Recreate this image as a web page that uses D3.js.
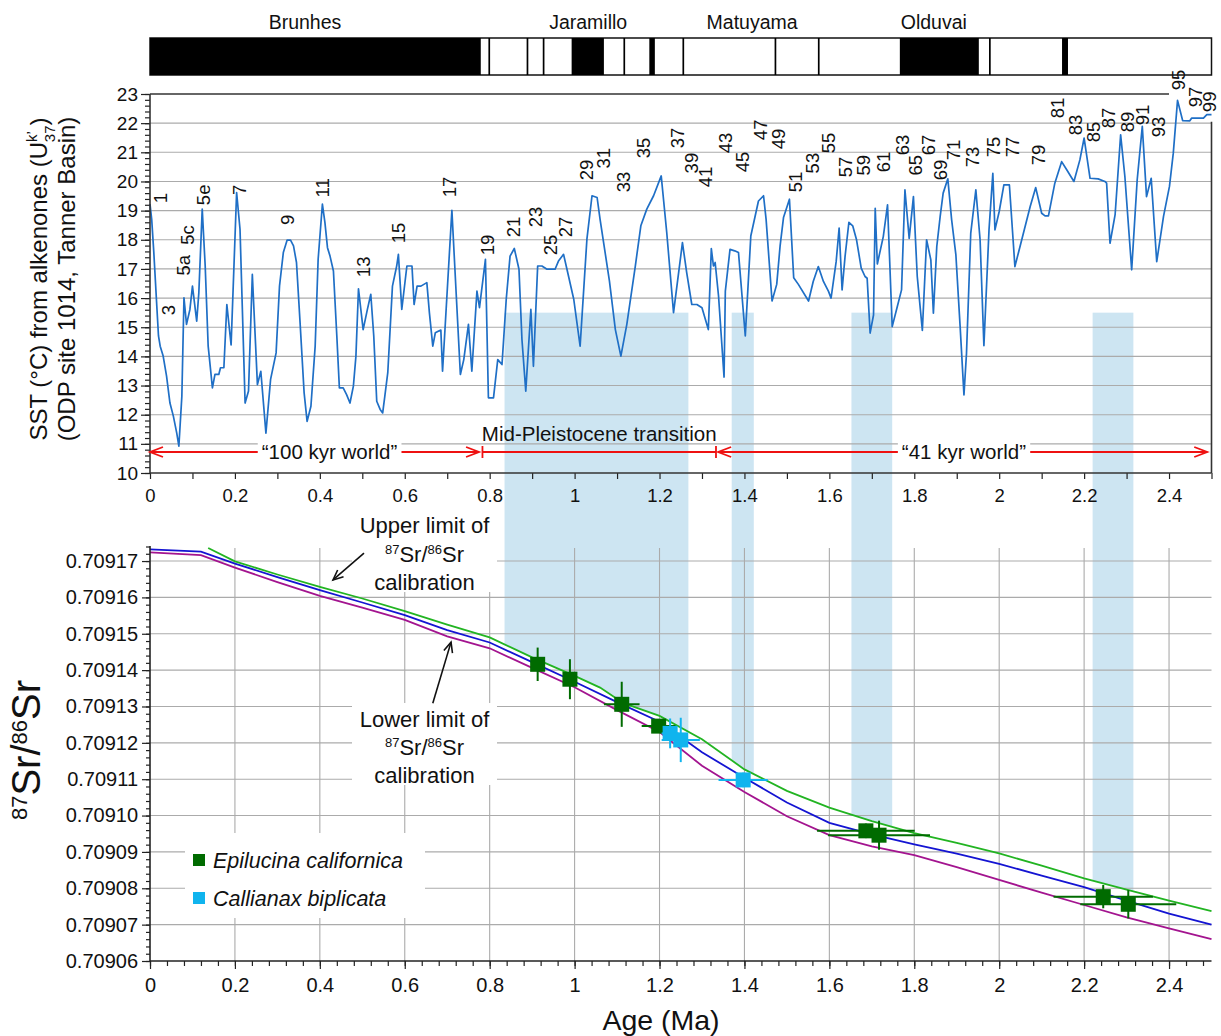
<!DOCTYPE html>
<html>
<head>
<meta charset="utf-8">
<script src="https://cdn.jsdelivr.net/npm/d3@7/dist/d3.min.js"></script>
<style>
  html, body { margin: 0; padding: 0; background: #fff; }
  svg { display: block; }
</style>
</head>
<body>
<svg id="chart" width="1221" height="1036"></svg>
<script>
// ---------------- data ----------------
// Alkenone SST record, ODP site 1014 (age in Ma, SST in °C)
const sstAge = [
  0.000,0.004,0.009,0.016,0.020,0.024,0.031,0.039,0.047,0.055,
  0.063,0.068,0.075,0.080,0.086,0.094,0.100,0.110,0.115,0.123,
  0.130,0.137,0.147,0.153,0.162,0.166,0.174,0.181,0.191,0.204,
  0.212,0.224,0.232,0.241,0.253,0.261,0.273,0.284,0.297,0.305,
  0.314,0.323,0.331,0.338,0.345,0.353,0.363,0.370,0.379,0.389,
  0.396,0.406,0.412,0.418,0.424,0.432,0.440,0.446,0.455,0.463,
  0.471,0.479,0.485,0.491,0.502,0.512,0.520,0.527,0.534,0.542,
  0.548,0.553,0.560,0.571,0.581,0.585,
  0.593,0.605,0.617,0.622,0.629,0.638,0.652,0.658,0.666,0.672,
  0.680,0.685,0.689,0.711,0.721,0.731,0.739,0.750,0.758,0.770,
  0.776,0.790,0.797,0.809,0.819,0.829,0.839,0.848,0.858,0.869,
  0.876,0.885,0.897,0.903,0.913,0.923,0.935,0.954,0.962,0.974,
  0.982,0.998,1.013,1.029,1.041,1.053,1.060,1.082,1.096,1.109,
  1.123,1.143,1.156,1.170,1.186,1.204,1.217,1.233,1.254,1.264,
  1.276,1.288,1.300,1.315,1.322,1.327,1.331,1.339,1.352,1.355,
  1.366,1.377,1.386,1.402,1.415,1.433,1.445,1.451,1.465,1.476,
  1.484,1.492,1.506,1.516,1.527,1.551,
  1.562,1.574,1.586,1.598,1.604,1.616,1.623,1.630,1.637,1.646,
  1.655,1.664,1.675,1.684,1.689,1.696,1.704,1.708,1.713,1.727,
  1.737,1.748,1.759,1.770,1.778,1.788,1.798,1.807,1.819,1.829,
  1.839,1.845,1.853,1.861,1.868,1.879,1.888,1.898,1.908,1.917,
  1.923,1.933,1.945,1.955,1.964,1.976,1.985,1.990,2.000,2.011,
  2.024,2.037,2.045,2.073,2.086,2.100,2.108,2.116,2.131,2.147,
  2.159,2.176,2.190,2.200,2.214,2.233,2.249,2.253,2.261,2.273,
  2.286,2.296,2.312,2.325,2.337,2.347,2.358,2.371,2.387,2.401,
  2.410,2.420,2.432,2.449,2.453,2.481,2.489,2.500
];
const sstTemp = [
  19.22,18.70,17.56,15.73,14.70,14.35,14.01,13.32,12.40,11.95,
  11.37,10.92,12.63,16.01,15.10,15.61,16.41,15.21,16.18,19.05,
  17.10,14.35,12.92,13.38,13.38,13.61,13.61,15.78,14.39,19.62,
  18.36,12.40,12.81,16.81,13.03,13.49,11.37,13.21,14.12,16.41,
  17.56,17.99,17.99,17.79,17.22,15.27,12.75,11.77,12.29,14.35,
  17.33,19.22,18.59,17.73,17.44,16.93,14.70,12.92,12.92,12.69,
  12.40,12.98,14.01,16.32,14.92,15.61,16.13,14.70,12.46,12.18,
  12.06,12.63,13.44,16.41,17.10,17.50,
  15.61,17.10,17.10,15.78,16.41,16.41,16.53,15.50,14.35,14.81,
  14.87,14.90,13.49,19.01,16.18,13.38,13.89,15.10,13.49,16.24,
  15.67,17.33,12.58,12.58,13.89,13.72,15.96,17.44,17.70,16.99,
  14.58,12.81,15.61,13.66,17.10,17.10,16.99,16.99,17.27,17.50,
  16.99,15.96,14.35,18.02,19.51,19.45,18.70,16.59,14.92,14.01,
  15.10,17.10,18.48,19.05,19.51,20.19,18.25,15.50,17.90,16.87,
  15.78,15.78,15.67,14.92,17.70,17.10,17.22,16.07,13.29,16.24,
  17.67,17.62,17.56,14.70,18.13,19.33,19.51,18.70,15.90,16.47,
  17.79,18.76,19.39,16.70,16.47,15.90,
  16.57,17.08,16.57,16.23,16.00,17.25,18.40,16.28,17.43,18.60,
  18.48,18.00,17.03,16.74,16.68,14.80,15.42,19.08,17.17,18.11,
  19.20,15.02,15.65,16.28,19.71,18.05,19.48,16.74,14.89,18.00,
  17.31,15.48,17.77,18.80,19.60,20.09,18.68,17.48,15.02,12.68,
  14.11,18.23,19.71,18.00,14.37,18.34,20.28,18.34,18.97,19.88,
  19.88,17.08,17.54,19.14,19.79,18.91,18.82,18.82,19.94,20.68,
  20.40,20.00,20.74,21.49,20.11,20.09,20.00,19.94,17.88,18.86,
  21.60,20.17,16.97,20.06,21.89,19.48,20.11,17.25,18.80,19.83,
  20.97,22.78,22.09,22.08,22.17,22.17,22.29,22.29
];

// Marine isotope stage labels placed on the SST record
const stageName = ["1","3","5a","5c","5e","7","9","11","13","15","17","19","21","23","25","27","29","31","33","35",
  "37","39","41","43","45","47","49","51","53","55","57","59","61","63","65","67","69","71","73","75",
  "77","79","81","83","85","87","89","91","93","95","97","99"];
const stageAge = [0.024,0.042,0.078,0.089,0.125,0.210,0.323,0.407,0.502,0.584,0.704,0.794,0.855,0.907,0.942,0.977,1.027,1.067,1.114,1.161,
  1.241,1.276,1.309,1.354,1.394,1.437,1.479,1.519,1.561,1.597,1.637,1.679,1.726,1.771,1.802,1.832,1.861,1.891,1.936,1.985,
  2.030,2.091,2.136,2.179,2.221,2.256,2.301,2.336,2.374,2.421,2.461,2.494];
const stageTemp = [19.43,15.59,17.13,18.16,19.54,19.71,18.68,19.78,17.07,18.23,19.81,17.82,18.44,18.78,17.82,18.44,20.39,20.80,19.98,21.15,
  21.49,20.63,20.15,21.32,20.67,21.77,21.46,19.98,20.63,21.32,20.50,20.56,20.67,21.25,20.56,21.25,20.39,21.08,20.84,21.18,
  21.18,20.91,22.52,21.94,21.70,22.18,22.04,22.28,21.87,23.48,22.90,22.73];

// Geomagnetic polarity: normal intervals (Ma) and reversal boundaries drawn as thin lines
const polarityNormal = [[0, 0.779], [0.993, 1.069], [1.176, 1.189], [1.766, 1.952], [2.148, 2.162]];
const polarityLines = [0.799, 0.889, 0.927, 1.117, 1.256, 1.473, 1.575, 1.978];
const chronName = ["Brunhes", "Jaramillo", "Matuyama", "Olduvai"];
const chronAge = [0.365, 1.032, 1.418, 1.846];

// Shaded age intervals (Ma)
const shadeBands = [[0.835, 1.268], [1.370, 1.422], [1.652, 1.748], [2.220, 2.316]];

// Climate regimes
const eraName = ["\u201C100 kyr world\u201D", "Mid-Pleistocene transition", "\u201C41 kyr world\u201D"];
const eraStart = [0, 0.783, 1.338];
const eraEnd = [0.775, 1.333, 2.49];

// Seawater 87Sr/86Sr calibration (age in Ma)
const calAge = [0,0.12,0.2,0.3,0.4,0.5,0.6,0.7,0.8,0.9,1.0,1.1,1.2,1.3,1.4,1.5,1.6,1.7,1.8,1.9,2.0,2.1,2.2,2.3,2.4,2.5];
const calMean = [0.7091732,0.7091726,0.7091693,0.7091656,0.7091620,0.7091586,0.7091551,0.7091510,0.7091476,0.7091422,
  0.7091368,0.7091312,0.7091258,0.7091174,0.7091104,0.7091036,0.7090980,0.7090948,0.7090921,0.7090895,
  0.7090867,0.7090835,0.7090803,0.7090766,0.7090730,0.7090700];
const calLower = [0.7091724,0.7091716,0.7091682,0.7091642,0.7091604,0.7091572,0.7091538,0.7091493,0.7091460,0.7091406,
  0.7091353,0.7091290,0.7091230,0.7091137,0.7091065,0.7090998,0.7090946,0.7090915,0.7090891,0.7090858,
  0.7090823,0.7090788,0.7090754,0.7090720,0.7090690,0.7090660];
const upperAge = [0.137,0.2,0.3,0.4,0.5,0.6,0.7,0.8,0.9,1.0,1.06,1.115,1.2,1.3,1.4,1.5,1.6,1.7,1.8,1.9,2.0,2.1,2.2,2.3,2.4,2.5];
const calUpper = [0.7091736,0.7091699,0.7091663,0.7091629,0.7091597,0.7091562,0.7091525,0.7091490,0.7091435,0.7091384,
  0.7091352,0.7091309,0.7091274,0.7091210,0.7091127,0.7091068,0.7091022,0.7090985,0.7090952,0.7090925,
  0.7090896,0.7090862,0.7090827,0.7090796,0.7090766,0.7090737];

// Shell measurements: Epilucina californica
const epiAge = [0.913, 0.989, 1.111, 1.198, 1.686, 1.717, 2.245, 2.304];
const epiAgeErr = [0.008, 0.008, 0.042, 0.040, 0.115, 0.120, 0.117, 0.113];
const epiSr = [0.7091416, 0.7091375, 0.7091306, 0.7091246, 0.7090958, 0.7090946, 0.7090777, 0.7090756];
const epiSrErr = [0.0000046, 0.0000055, 0.0000062, 0.0000015, 0.0000020, 0.0000040, 0.0000032, 0.0000039];
// Shell measurements: Callianax biplicata
const calliAge = [1.225, 1.250, 1.397];
const calliAgeErr = [0.020, 0.045, 0.058];
const calliSr = [0.7091226, 0.7091208, 0.7091098];
const calliSrErr = [0.0000041, 0.0000061, 0.0000020];

// Tick values
const sstTicks = d3.range(10, 24);
const ageLabelTicks = d3.range(0, 13).map(i => i / 5);
const srTicks = d3.range(0, 12).map(i => +(0.70906 + i * 1e-5).toFixed(5));

// ---------------- drawing ----------------
const FONT = '"Liberation Sans", Arial, Helvetica, sans-serif';
const W = 1221;
const svg = d3.select("#chart").attr("font-family", FONT);

const x = d3.scaleLinear().domain([0, 2.5]).range([150, 1211.5]);
const ySST = d3.scaleLinear().domain([10, 23]).range([473, 94]);
const ySr = d3.scaleLinear().domain([0.70906, 0.709174]).range([961, 546.5]);

const COL = {
  sst: "#1f6fc6", shade: "#cde5f2", grid: "#ababab",
  upper: "#22b422", mean: "#1414d2", lower: "#a3148f",
  epi: "#006b00", calli: "#10b4ee", red: "#ee1111"
};

const defs = svg.append("defs");

// clip: region above the upper calibration limit
const upperPts = upperAge.map((a, i) => [x(a), ySr(calUpper[i])]);
const clipPts = [[0, 0], [W, 0], [W, upperPts[upperPts.length - 1][1]]]
  .concat(upperPts.slice().reverse())
  .concat([[0, upperPts[0][1]]]);
defs.append("clipPath").attr("id", "aboveUpper")
  .append("path").attr("d", "M" + clipPts.map(p => p.join(",")).join("L") + "Z");

// shaded intervals spanning both panels
svg.append("g").attr("clip-path", "url(#aboveUpper)")
  .selectAll("rect").data(shadeBands).join("rect")
  .attr("x", d => x(d[0])).attr("width", d => x(d[1]) - x(d[0]))
  .attr("y", ySST(15.5)).attr("height", ySr(0.70906) - ySST(15.5))
  .attr("fill", COL.shade);

// ---- polarity bar ----
const bar = svg.append("g");
const barTop = 38, barH = 37;
bar.append("rect").attr("x", x(0)).attr("y", barTop).attr("width", x(2.5) - x(0)).attr("height", barH)
  .attr("fill", "#fff").attr("stroke", "#111").attr("stroke-width", 1.5);
bar.selectAll("rect.n").data(polarityNormal).join("rect").attr("class", "n")
  .attr("x", d => x(d[0])).attr("width", d => x(d[1]) - x(d[0]))
  .attr("y", barTop).attr("height", barH).attr("fill", "#000");
bar.selectAll("line").data(polarityLines).join("line")
  .attr("x1", d => x(d)).attr("x2", d => x(d)).attr("y1", barTop).attr("y2", barTop + barH)
  .attr("stroke", "#000").attr("stroke-width", 1.7);
bar.selectAll("text").data(chronName).join("text")
  .attr("x", (d, i) => x(chronAge[i])).attr("y", 29).attr("text-anchor", "middle")
  .attr("font-size", 19.5).attr("fill", "#111").text(d => d);

// ---- gridlines ----
svg.append("g").selectAll("line").data(sstTicks.filter(t => t > 10 && t < 23)).join("line")
  .attr("x1", x(0)).attr("x2", x(2.5)).attr("y1", d => ySST(d)).attr("y2", d => ySST(d))
  .attr("stroke", COL.grid).attr("stroke-width", 1.1);
const g2 = svg.append("g");
g2.selectAll("line.h").data(srTicks.slice(1)).join("line").attr("class", "h")
  .attr("x1", x(0)).attr("x2", x(2.5)).attr("y1", d => ySr(d)).attr("y2", d => ySr(d))
  .attr("stroke", COL.grid).attr("stroke-width", 1.1);
g2.selectAll("line.v").data(ageLabelTicks.slice(1)).join("line").attr("class", "v")
  .attr("x1", d => x(d)).attr("x2", d => x(d)).attr("y1", 548).attr("y2", ySr(0.70906))
  .attr("stroke", COL.grid).attr("stroke-width", 1.1);

// ---- white boxes behind annotations and legend ----
const boxes = [[352, 508, 145, 84], [352, 703, 145, 82], [185, 833, 240, 85]];
svg.append("g").selectAll("rect").data(boxes).join("rect")
  .attr("x", d => d[0]).attr("y", d => d[1]).attr("width", d => d[2]).attr("height", d => d[3])
  .attr("fill", "#fff");

// ---- Sr calibration curves ----
const srLine = d3.line().x(d => x(d[0])).y(d => ySr(d[1]));
const curves = [
  { age: calAge, val: calLower, color: COL.lower },
  { age: calAge, val: calMean, color: COL.mean },
  { age: upperAge, val: calUpper, color: COL.upper }
];
svg.append("g").selectAll("path").data(curves).join("path")
  .attr("d", c => srLine(c.age.map((a, i) => [a, c.val[i]])))
  .attr("fill", "none").attr("stroke", c => c.color).attr("stroke-width", 1.8);

// ---- shell data with error bars ----
function drawShells(age, ageErr, sr, srErr, color) {
  const g = svg.append("g");
  const pts = age.map((a, i) => ({ a, ae: ageErr[i], s: sr[i], se: srErr[i] }));
  g.selectAll("line.eh").data(pts).join("line").attr("class", "eh")
    .attr("x1", d => x(d.a - d.ae)).attr("x2", d => x(d.a + d.ae))
    .attr("y1", d => ySr(d.s)).attr("y2", d => ySr(d.s))
    .attr("stroke", color).attr("stroke-width", 2);
  g.selectAll("line.ev").data(pts).join("line").attr("class", "ev")
    .attr("x1", d => x(d.a)).attr("x2", d => x(d.a))
    .attr("y1", d => ySr(d.s - d.se)).attr("y2", d => ySr(d.s + d.se))
    .attr("stroke", color).attr("stroke-width", 2);
  g.selectAll("rect").data(pts).join("rect")
    .attr("x", d => x(d.a) - 7.5).attr("y", d => ySr(d.s) - 7.5)
    .attr("width", 15).attr("height", 15).attr("fill", color);
}
drawShells(epiAge, epiAgeErr, epiSr, epiSrErr, COL.epi);
drawShells(calliAge, calliAgeErr, calliSr, calliSrErr, COL.calli);

// ---- SST record ----
const sstLine = d3.line().x(d => x(d[0])).y(d => ySST(d[1]));
svg.append("path").attr("d", sstLine(sstAge.map((a, i) => [a, sstTemp[i]])))
  .attr("fill", "none").attr("stroke", COL.sst).attr("stroke-width", 1.7)
  .attr("stroke-linejoin", "round");

// isotope stage labels
svg.append("g").selectAll("text").data(stageName).join("text")
  .attr("transform", (d, i) => `translate(${x(stageAge[i])},${ySST(stageTemp[i])}) rotate(-90)`)
  .attr("text-anchor", "middle").attr("dy", "0.36em")
  .attr("font-size", 18.5).attr("fill", "#111").text(d => d);

// ---- axes ----
function styleAxis(g, fs) {
  g.select(".domain").remove();
  g.attr("font-family", FONT).attr("font-size", fs);
  g.selectAll("line").attr("stroke", "#222").attr("stroke-width", 1.2);
  g.selectAll("text").attr("fill", "#111");
}
// upper panel
svg.append("g").attr("transform", `translate(0,${ySST(10)})`)
  .call(d3.axisBottom(x).tickValues(d3.range(0, 26).map(i => i / 10)).tickSize(6).tickPadding(10)
    .tickFormat(d => (Math.round(d * 10) % 2 === 0) ? d3.format("~g")(d) : ""))
  .call(styleAxis, 18.5);
svg.append("g").attr("transform", `translate(${x(0)},0)`)
  .call(d3.axisLeft(ySST).tickValues(d3.range(0, 66).map(i => 10 + i * 0.2)).tickSize(5).tickFormat(""))
  .call(styleAxis, 18);
svg.append("g").attr("transform", `translate(${x(0)},0)`)
  .call(d3.axisLeft(ySST).tickValues(sstTicks).tickSize(9).tickPadding(3).tickFormat(d3.format("d")))
  .call(styleAxis, 19);
// upper panel frame
const frame = svg.append("g").attr("stroke", "#333").attr("stroke-width", 1.6);
frame.append("line").attr("x1", x(0)).attr("x2", x(0)).attr("y1", ySST(23)).attr("y2", ySST(10));
frame.append("line").attr("x1", x(0)).attr("x2", x(2.5)).attr("y1", ySST(10)).attr("y2", ySST(10));
frame.append("line").attr("x1", x(0)).attr("x2", x(2.4)).attr("y1", ySST(23)).attr("y2", ySST(23));
frame.append("line").attr("x1", x(2.5)).attr("x2", x(2.5)).attr("y1", ySST(22.05)).attr("y2", ySST(10));

// lower panel
svg.append("g").attr("transform", `translate(0,${ySr(0.70906)})`)
  .call(d3.axisBottom(x).tickValues(d3.range(0, 63).map(i => i * 0.04)).tickSize(5).tickFormat(""))
  .call(styleAxis, 20);
svg.append("g").attr("transform", `translate(0,${ySr(0.70906)})`)
  .call(d3.axisBottom(x).tickValues(ageLabelTicks).tickSize(8).tickPadding(9).tickFormat(d3.format("~g")))
  .call(styleAxis, 20);
svg.append("g").attr("transform", `translate(${x(0)},0)`)
  .call(d3.axisLeft(ySr).tickValues(d3.range(0, 58).map(i => 0.70906 + i * 2e-6)).tickSize(4).tickFormat(""))
  .call(styleAxis, 20);
svg.append("g").attr("transform", `translate(${x(0)},0)`)
  .call(d3.axisLeft(ySr).tickValues(srTicks).tickSize(8).tickPadding(4).tickFormat(d3.format(".5f")))
  .call(styleAxis, 20);
const frame2 = svg.append("g").attr("stroke", "#222").attr("stroke-width", 1.6);
frame2.append("line").attr("x1", x(0)).attr("x2", x(0)).attr("y1", 546).attr("y2", ySr(0.70906));
frame2.append("line").attr("x1", x(0)).attr("x2", x(2.5)).attr("y1", ySr(0.70906)).attr("y2", ySr(0.70906));

// ---- climate regime arrows ----
const eraY = ySST(10.72);
const era = svg.append("g").attr("stroke", COL.red).attr("stroke-width", 1.8).attr("fill", "none");
function chevron(tx, dir) {
  // dir = -1 points left, +1 points right
  era.append("path").attr("d", `M${tx - dir * 13},${eraY - 5}L${tx},${eraY}L${tx - dir * 13},${eraY + 5}`);
}
[0, 2].forEach(i => {
  era.append("line").attr("x1", x(eraStart[i])).attr("x2", x(eraEnd[i])).attr("y1", eraY).attr("y2", eraY);
  chevron(x(eraStart[i]), -1);
  chevron(x(eraEnd[i]), 1);
});
era.append("line").attr("x1", x(eraStart[1])).attr("x2", x(eraEnd[1])).attr("y1", eraY).attr("y2", eraY);
[eraStart[1], eraEnd[1]].forEach(a =>
  era.append("line").attr("x1", x(a)).attr("x2", x(a)).attr("y1", eraY - 6).attr("y2", eraY + 6));

function boxedText(parent, tx, ty, str, fs) {
  const g = parent.append("g");
  const t = g.append("text").attr("x", tx).attr("y", ty).attr("text-anchor", "middle")
    .attr("font-size", fs).attr("fill", "#111").text(str);
  const b = t.node().getBBox();
  g.insert("rect", "text").attr("x", b.x - 4).attr("y", b.y + 1).attr("width", b.width + 8)
    .attr("height", b.height - 2).attr("fill", "#fff");
  return g;
}
boxedText(svg, (x(eraStart[0]) + x(eraEnd[0])) / 2 + 15, eraY + 7, eraName[0], 20.5);
boxedText(svg, x(1.917), eraY + 7, eraName[2], 20.5);
svg.append("text").attr("x", (x(eraStart[1]) + x(eraEnd[1])) / 2).attr("y", eraY - 11)
  .attr("text-anchor", "middle").attr("font-size", 20.5).attr("fill", "#111").text(eraName[1]);

// ---- annotations ----
function srRatioText(parent, tx, ty, fs) {
  const t = parent.append("text").attr("x", tx).attr("y", ty).attr("text-anchor", "middle")
    .attr("font-size", fs).attr("fill", "#111");
  const sup = Math.round(fs * 0.58);
  t.append("tspan").attr("font-size", sup).attr("dy", -fs * 0.36).text("87");
  t.append("tspan").attr("dy", fs * 0.36).text("Sr/");
  t.append("tspan").attr("font-size", sup).attr("dy", -fs * 0.36).text("86");
  t.append("tspan").attr("dy", fs * 0.36).text("Sr");
  return t;
}
const ann = svg.append("g");
const annX = 424.5;
ann.append("text").attr("x", annX).attr("y", 533).attr("text-anchor", "middle").attr("font-size", 22).attr("fill", "#111").text("Upper limit of");
srRatioText(ann, annX, 562, 22);
ann.append("text").attr("x", annX).attr("y", 590).attr("text-anchor", "middle").attr("font-size", 22).attr("fill", "#111").text("calibration");
ann.append("text").attr("x", annX).attr("y", 727).attr("text-anchor", "middle").attr("font-size", 22).attr("fill", "#111").text("Lower limit of");
srRatioText(ann, annX, 755, 22);
ann.append("text").attr("x", annX).attr("y", 783).attr("text-anchor", "middle").attr("font-size", 22).attr("fill", "#111").text("calibration");

function pointer(x1, y1, x2, y2) {
  const ang = Math.atan2(y2 - y1, x2 - x1);
  const L = 11, a = 0.42;
  ann.append("line").attr("x1", x1).attr("y1", y1).attr("x2", x2).attr("y2", y2)
    .attr("stroke", "#111").attr("stroke-width", 1.6);
  ann.append("path")
    .attr("d", `M${x2 - L * Math.cos(ang - a)},${y2 - L * Math.sin(ang - a)}L${x2},${y2}L${x2 - L * Math.cos(ang + a)},${y2 - L * Math.sin(ang + a)}`)
    .attr("fill", "none").attr("stroke", "#111").attr("stroke-width", 1.6);
}
pointer(x(0.504), ySr(0.7091722), x(0.431), ySr(0.7091648));
pointer(x(0.666), ySr(0.7091309), x(0.709), ySr(0.7091477));

// ---- legend ----
const legend = svg.append("g");
const legItems = [["Epilucina californica", COL.epi], ["Callianax biplicata", COL.calli]];
legItems.forEach((d, i) => {
  const cy = 860 + i * 38;
  legend.append("rect").attr("x", 193).attr("y", cy - 6).attr("width", 12).attr("height", 12).attr("fill", d[1]);
  legend.append("text").attr("x", 213).attr("y", cy + 7.5).attr("font-size", 21.5).attr("font-style", "italic")
    .attr("fill", "#111").text(d[0]);
});

// ---- axis titles ----
const t1 = svg.append("text").attr("transform", "translate(47,279) rotate(-90)")
  .attr("text-anchor", "middle").attr("font-size", 24).attr("fill", "#111");
t1.append("tspan").text("SST (\u00B0C) from alkenones (U");
t1.append("tspan").attr("font-size", 15).attr("dy", -10).text("k\u2019");
t1.append("tspan").attr("font-size", 15).attr("dx", -11).attr("dy", 18).text("37");
t1.append("tspan").attr("dy", -8).text(")");
svg.append("text").attr("transform", "translate(75,279) rotate(-90)")
  .attr("text-anchor", "middle").attr("font-size", 24).attr("fill", "#111")
  .text("(ODP site 1014, Tanner Basin)");

const t2 = svg.append("text").attr("transform", "translate(40,750) rotate(-90)")
  .attr("text-anchor", "middle").attr("font-size", 40).attr("fill", "#111");
t2.append("tspan").attr("font-size", 22).attr("dy", -13).text("87");
t2.append("tspan").attr("dy", 13).text("Sr/");
t2.append("tspan").attr("font-size", 22).attr("dy", -13).text("86");
t2.append("tspan").attr("dy", 13).text("Sr");

svg.append("text").attr("x", 661).attr("y", 1030).attr("text-anchor", "middle")
  .attr("font-size", 28.5).attr("fill", "#111").text("Age (Ma)");
</script>
</body>
</html>
